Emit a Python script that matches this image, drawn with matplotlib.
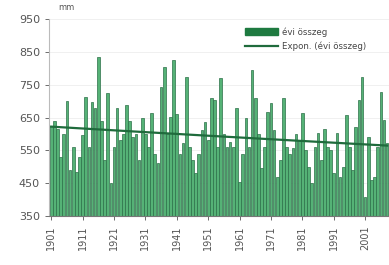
import numpy as np
from matplotlib import pyplot as plt
from matplotlib.patches import Patch

# annual precipitation sums (mm), 1901-2008
years = list(range(1901, 2009))
evi_osszeg = [
    625, 640, 615, 530, 600, 700, 490, 560, 484, 530,
    596, 712, 560, 697, 679, 835, 640, 520, 725, 450,
    560, 679, 580, 600, 688, 640, 590, 600, 520, 650,
    600, 560, 664, 540, 510, 743, 804, 600, 652, 825,
    660, 540, 572, 773, 560, 520, 481, 540, 612, 636,
    580, 709, 703, 560, 770, 600, 560, 575, 560, 679,
    454, 540, 650, 560, 795, 709, 600, 496, 560, 667,
    694, 612, 469, 520, 709, 560, 540, 557, 600, 580,
    664, 551, 499, 450, 560, 602, 520, 615, 560, 551,
    481, 602, 469, 499, 658, 560, 490, 620, 703, 773,
    408, 591, 459, 470, 560, 728, 642, 572,
]
yticks = [350, 450, 550, 650, 750, 850, 950]
xtick_years = list(range(1901, 2002, 10))

x = np.array(years)
y = np.array(evi_osszeg, dtype=float)

# exponential trend like the spreadsheet "Expon." line
b, a = np.polyfit(x, np.log(y), 1)
trend = np.exp(a + b * x)

fig = plt.figure(figsize=(3.89, 2.65), dpi=100)
ax = fig.add_axes([0.126, 0.185, 0.874, 0.743])

ax.bar(x, y - 350, bottom=350, width=0.85, color='#55b276',
       edgecolor='#2b7048', linewidth=0.5, zorder=2)
line, = ax.plot(x, trend, color='#1f6b3c', linewidth=1.6, zorder=3)

ax.set_ylim(350, 950)
ax.set_xlim(1900.3, 2008.6)
ax.set_yticks(yticks)
ax.set_xticks(xtick_years)
ax.set_xticklabels([str(v) for v in xtick_years], rotation=90)
ax.tick_params(axis='y', labelsize=8, colors='#555555', length=3, width=0.6)
ax.tick_params(axis='x', labelsize=7, colors='#555555', length=3, width=0.6)
ax.grid(axis='y', color='#eeeeee', linewidth=0.6, zorder=0)

for side in ['top', 'right']:
    ax.spines[side].set_visible(False)
ax.spines['left'].set_color('#bbbbbb')
ax.spines['bottom'].set_color('#777777')

fig.text(0.15, 0.955, 'mm', fontsize=6, color='#555555', ha='left', va='bottom')

patch = Patch(facecolor='#1e7a40', edgecolor='#1e7a40')
leg = ax.legend([patch, line], ['évi összeg', 'Expon. (évi összeg)'],
                loc='upper right', bbox_to_anchor=(0.95, 0.99), fontsize=6.2,
                frameon=False, handlelength=3.8, handleheight=0.9,
                labelspacing=0.55, borderpad=0.2, handletextpad=0.5)
for t in leg.get_texts():
    t.set_color('#444444')

fig.savefig('out.png', dpi=100)
